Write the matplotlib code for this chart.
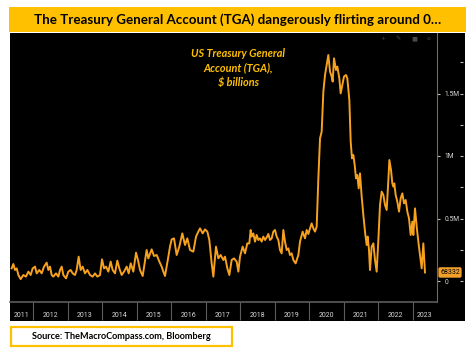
import matplotlib
matplotlib.use("Agg")
import matplotlib.pyplot as plt
import matplotlib.transforms as mtransforms
from matplotlib.patches import Rectangle

# ---------------------------------------------
#   TGA balance, $ billions
# ---------------------------------------------
dates = [
    2011.381, 2011.430, 2011.478, 2011.527, 2011.575, 2011.642, 2011.720, 2011.797,
    2011.865, 2011.932, 2011.990, 2012.058, 2012.106, 2012.184, 2012.251, 2012.319,
    2012.396, 2012.444, 2012.493, 2012.541, 2012.589, 2012.667, 2012.734, 2012.783,
    2012.831, 2012.879, 2012.957, 2013.024, 2013.092, 2013.150, 2013.217, 2013.266,
    2013.323, 2013.381, 2013.439, 2013.507, 2013.575, 2013.652, 2013.729, 2013.797,
    2013.865, 2013.942, 2014.000, 2014.058, 2014.116, 2014.184, 2014.251, 2014.309,
    2014.377, 2014.444, 2014.502, 2014.570, 2014.638, 2014.715, 2014.773, 2014.831,
    2014.908, 2014.986, 2015.053, 2015.101, 2015.179, 2015.236, 2015.294, 2015.343,
    2015.439, 2015.507, 2015.585, 2015.662, 2015.729, 2015.778, 2015.826, 2015.874,
    2015.923, 2015.971, 2016.019, 2016.087, 2016.164, 2016.241, 2016.328, 2016.406,
    2016.473, 2016.551, 2016.647, 2016.725, 2016.792, 2016.841, 2016.918, 2016.986,
    2017.053, 2017.111, 2017.179, 2017.227, 2017.304, 2017.372, 2017.439, 2017.517,
    2017.565, 2017.633, 2017.691, 2017.758, 2017.826, 2017.903, 2017.952, 2018.000,
    2018.077, 2018.145, 2018.212, 2018.270, 2018.309, 2018.338, 2018.386, 2018.435,
    2018.483, 2018.531, 2018.580, 2018.628, 2018.676, 2018.725, 2018.773, 2018.821,
    2018.870, 2018.918, 2018.966, 2019.014, 2019.063, 2019.111, 2019.159, 2019.208,
    2019.256, 2019.304, 2019.353, 2019.401, 2019.449, 2019.498, 2019.546, 2019.613,
    2019.691, 2019.739, 2019.816, 2019.884, 2019.932, 2019.981, 2020.029, 2020.077,
    2020.126, 2020.174, 2020.222, 2020.271, 2020.319, 2020.367, 2020.416, 2020.464,
    2020.512, 2020.560, 2020.609, 2020.657, 2020.686, 2020.725, 2020.783, 2020.821,
    2020.879, 2020.918, 2020.966, 2021.014, 2021.072, 2021.111, 2021.169, 2021.208,
    2021.246, 2021.285, 2021.324, 2021.362, 2021.401, 2021.440, 2021.478, 2021.527,
    2021.575, 2021.623, 2021.671, 2021.700, 2021.739, 2021.768, 2021.816, 2021.865,
    2021.913, 2021.961, 2022.010, 2022.058, 2022.106, 2022.155, 2022.203, 2022.251,
    2022.300, 2022.329, 2022.377, 2022.415, 2022.444, 2022.473, 2022.512, 2022.560,
    2022.609, 2022.657, 2022.705, 2022.754, 2022.802, 2022.850, 2022.899, 2022.947,
    2022.995, 2023.024, 2023.072, 2023.121, 2023.169, 2023.217, 2023.266, 2023.314,
    2023.362,
]
tga_bn = [
    101, 136, 88, 101, 48, 15, 48, 35,
    75, 48, 101, 115, 61, 88, 61, 115,
    147, 88, 115, 48, 35, 61, 35, 88,
    115, 48, 21, 75, 88, 61, 48, 88,
    195, 88, 115, 61, 88, 48, 35, 61,
    35, 48, 173, 101, 115, 75, 155, 88,
    61, 163, 101, 48, 75, 115, 61, 141,
    75, 227, 155, 88, 40, 141, 248, 181,
    253, 200, 208, 155, 115, 75, 40, 115,
    195, 275, 333, 341, 208, 275, 381, 288,
    341, 248, 235, 355, 395, 421, 381, 413,
    395, 328, 141, 35, 275, 181, 208, 168,
    195, 101, 48, 168, 181, 155, 75, 195,
    275, 221, 301, 301, 408, 355, 381, 315,
    368, 328, 341, 315, 355, 328, 349, 376,
    328, 341, 395, 408, 355, 328, 248, 221,
    408, 315, 248, 261, 208, 221, 168, 141,
    208, 315, 395, 341, 408, 376, 421, 461,
    421, 395, 435, 821, 1141, 1195, 1515, 1648,
    1728, 1808, 1675, 1635, 1595, 1781, 1688, 1715,
    1621, 1501, 1568, 1635, 1648, 1621, 1448, 1115,
    981, 1008, 928, 821, 848, 741, 861, 675,
    528, 395, 288, 355, 248, 88, 275, 301,
    168, 75, 328, 608, 715, 688, 608, 568,
    808, 968, 888, 781, 755, 781, 688, 635,
    555, 661, 701, 621, 648, 555, 501, 368,
    475, 368, 581, 435, 315, 208, 101, 301,
    68.332,
]

year_labels = [str(y) for y in range(2011, 2024)]
year_starts = list(range(2012, 2024))
y_ticks = [0, 500, 1000, 1500]
y_tick_labels = ["0", "0.5M", "1M", "1.5M"]
y_minor = [250, 750, 1250, 1750]

TITLE = "The Treasury General Account (TGA) dangerously flirting around 0…"
NOTE = "US Treasury General\nAccount (TGA),\n$ billions"
SOURCE = "Source: TheMacroCompass.com, Bloomberg"

ORANGE = "#FFC000"
LINE = "#F7A21E"
W, H = 474, 351
X0, X1 = 2011.333, 2023.71
Y0, Y1 = -168, 1984


def fx(px):
    return px / W


def fy(py):
    return 1 - py / H


def box(x0, y0, x1, y1, **kw):
    r = Rectangle((fx(x0), fy(y1)), (x1 - x0) / W, (y1 - y0) / H,
                  transform=fig.transFigure, zorder=-5, **kw)
    fig.patches.append(r)
    return r


fig = plt.figure(figsize=(W / 100, H / 100), dpi=100)
fig.patch.set_facecolor("white")

# banner + black panel + source box
box(9, 7, 466, 32, facecolor=ORANGE, edgecolor="none")
box(10, 33, 465, 321, facecolor="black", edgecolor="none")
box(10.5, 327, 232, 346, facecolor="white", edgecolor=ORANGE, linewidth=1.6)

fig.text(fx(237.5), fy(20), TITLE, ha="center", va="center", fontsize=9.6,
         fontweight="bold", family="Lato", color="black")
fig.text(fx(121), fy(336.5), SOURCE, ha="center", va="center", fontsize=6.6,
         fontweight="bold", family="Lato", color="black")

ax = fig.add_axes([fx(10), fy(302), (437 - 10) / W, (302 - 33) / H])
ax.set_facecolor("black")
ax.plot(dates, tga_bn, color=LINE, lw=1.4, solid_joinstyle="round")
ax.set_xlim(X0, X1)
ax.set_ylim(Y0, Y1)

for s in ("top", "left"):
    ax.spines[s].set_visible(False)
ax.spines["right"].set_color("#8C6B1F")
ax.spines["bottom"].set_color("#5c5c5c")
ax.spines["bottom"].set_linewidth(1.2)

# years: separators at Jan 1, labels centred in each visible span
label_pos = [(X0 + 2012) / 2] + [y + 0.5 for y in range(2012, 2023)] + [(2023 + X1) / 2]
ax.set_xticks(year_starts, labels=[""] * len(year_starts))
ax.set_xticks(label_pos, labels=year_labels, minor=True)
ax.tick_params(axis="x", which="major", direction="out", length=13, width=0.8,
               color="#5c5c5c")
ax.tick_params(axis="x", which="minor", length=0, pad=7, labelsize=5,
               labelcolor="#d8d8d8")
for t in ax.get_xticklabels(minor=True):
    t.set_family("Roboto")

ax.yaxis.tick_right()
ax.set_yticks(y_ticks, labels=y_tick_labels)
ax.tick_params(axis="y", which="major", direction="out", length=2.2, width=0.8,
               color="#bbbbbb", pad=3, labelsize=4.9, labelcolor="#d8d8d8")
for t in ax.get_yticklabels():
    t.set_family("Roboto")

# short dashes on the far side of the labels
ax2 = fig.add_axes([fx(460), fy(302), 0.0001, (302 - 33) / H])
ax2.set_ylim(Y0, Y1)
ax2.patch.set_visible(False)
for s in ax2.spines.values():
    s.set_visible(False)
ax2.set_xticks([])
ax2.yaxis.tick_right()
ax2.set_yticks(y_ticks, labels=[""] * len(y_ticks))
ax2.set_yticks(y_minor, labels=[""] * len(y_minor), minor=True)
ax2.tick_params(axis="y", which="both", direction="out", length=2.2, width=0.8,
                color="#bbbbbb")

# last value tag
tr = mtransforms.blended_transform_factory(fig.transFigure, ax.transData)
ax.text(fx(450), tga_bn[-1], f"{int(round(tga_bn[-1] * 1000))}",
        transform=tr, ha="center", va="center", fontsize=5, family="Roboto",
        color="black", clip_on=False,
        bbox=dict(boxstyle="round,pad=0.25", fc="#F2A02A", ec="none"))

# annotation
fig.text(fx(238), fy(68), NOTE, ha="center", va="center", fontsize=7.8,
         fontweight="bold", style="italic", family="Lato", color=ORANGE,
         linespacing=1.4)

# toolbar glyphs, top right
for px, g in zip([383, 398, 414, 429], ["+", "✎", "■", "o"]):
    fig.text(fx(px), fy(39), g, ha="center", va="center", fontsize=4.5,
             color="#4a4a4a")

fig.savefig("out.png", dpi=100, facecolor="white")
